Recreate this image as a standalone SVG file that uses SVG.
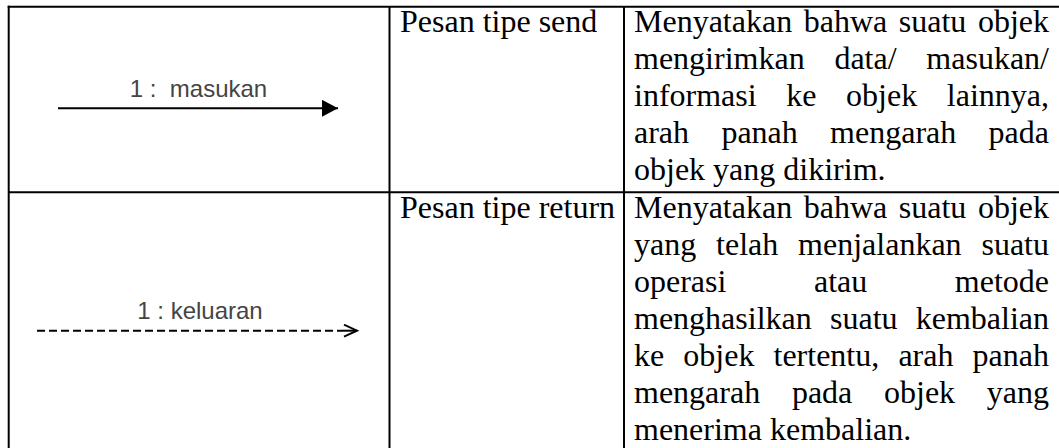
<svg xmlns="http://www.w3.org/2000/svg" width="1059" height="448" viewBox="0 0 1059 448">
<defs>
<style>
.grid{stroke:#000;stroke-width:2;fill:none}
.lbl{font-family:"Liberation Sans",Arial,sans-serif;font-size:24px;fill:#444;text-anchor:middle}
.t{font-family:"Liberation Serif","Times New Roman",serif;font-size:32px;fill:#000}
.e{text-anchor:end}
.conn{stroke:#000;stroke-width:2;fill:none}
</style>
<marker id="filled" markerUnits="userSpaceOnUse" markerWidth="18" markerHeight="18" refX="16" refY="8.5" orient="auto">
<path d="M0,0 L16,8.5 L0,17 Z" fill="#000"/>
</marker>
<marker id="open" markerUnits="userSpaceOnUse" markerWidth="18" markerHeight="16" refX="14" refY="7" orient="auto">
<path d="M1,1 L14,7 L1,13" fill="none" stroke="#000" stroke-width="2"/>
</marker>
</defs>
<rect width="1059" height="448" fill="#fff"/>
<g id="table">
<line class="grid" x1="7.7" y1="6.7" x2="1059" y2="6.7"/>
<line class="grid" x1="8.7" y1="5.7" x2="8.7" y2="448"/>
<line class="grid" x1="389.5" y1="6" x2="389.5" y2="448"/>
<line class="grid" x1="624" y1="6" x2="624" y2="448"/>
<line class="grid" x1="8" y1="192.3" x2="1059" y2="192.3"/>
</g>
<g id="connectors">
<line class="conn" x1="58" y1="108.3" x2="338" y2="108.3" marker-end="url(#filled)"/>
<line class="conn" x1="37" y1="330.7" x2="343" y2="330.7" stroke-dasharray="8 4"/>
<line class="conn" x1="343" y1="330.7" x2="357" y2="330.7" stroke="none" marker-end="url(#open)"/>
</g>
<g id="send-label"><text class="lbl" x="198.5" y="97" xml:space="preserve">1 :  masukan</text></g>
<g id="return-label"><text class="lbl" x="200" y="319">1 : keluaran</text></g>
<g id="row1-type"><text class="t" x="400" y="32">Pesan tipe send</text></g>
<g id="row1-desc">
<text class="t" x="634" y="32">Menyatakan</text><text class="t" x="803.7" y="32">bahwa</text><text class="t" x="898.8" y="32">suatu</text><text class="t e" x="1049" y="32">objek</text>
<text class="t" x="634" y="69">mengirimkan</text><text class="t" x="834.4" y="69">data/</text><text class="t e" x="1049" y="69">masukan/</text>
<text class="t" x="634" y="106">informasi</text><text class="t" x="786.3" y="106">ke</text><text class="t" x="846.1" y="106">objek</text><text class="t e" x="1049" y="106">lainnya,</text>
<text class="t" x="634" y="143">arah</text><text class="t" x="721.4" y="143">panah</text><text class="t" x="830.1" y="143">mengarah</text><text class="t e" x="1049" y="143">pada</text>
<text class="t" x="634" y="180">objek yang dikirim.</text>
</g>
<g id="row2-type"><text class="t" x="400" y="218">Pesan tipe return</text></g>
<g id="row2-desc">
<text class="t" x="634" y="218">Menyatakan</text><text class="t" x="803.7" y="218">bahwa</text><text class="t" x="898.8" y="218">suatu</text><text class="t e" x="1049" y="218">objek</text>
<text class="t" x="634" y="255">yang</text><text class="t" x="716.1" y="255">telah</text><text class="t" x="798.1" y="255">menjalankan</text><text class="t e" x="1049" y="255">suatu</text>
<text class="t" x="634" y="292">operasi</text><text class="t" x="814" y="292">atau</text><text class="t e" x="1049" y="292">metode</text>
<text class="t" x="634" y="329">menghasilkan</text><text class="t" x="830" y="329">suatu</text><text class="t e" x="1049" y="329">kembalian</text>
<text class="t" x="634" y="366">ke</text><text class="t" x="683.3" y="366">objek</text><text class="t" x="773.5" y="366">tertentu,</text><text class="t" x="898.4" y="366">arah</text><text class="t e" x="1049" y="366">panah</text>
<text class="t" x="634" y="403">mengarah</text><text class="t" x="791.9" y="403">pada</text><text class="t" x="884" y="403">objek</text><text class="t e" x="1049" y="403">yang</text>
<text class="t" x="634" y="440">menerima kembalian.</text>
</g>
</svg>
